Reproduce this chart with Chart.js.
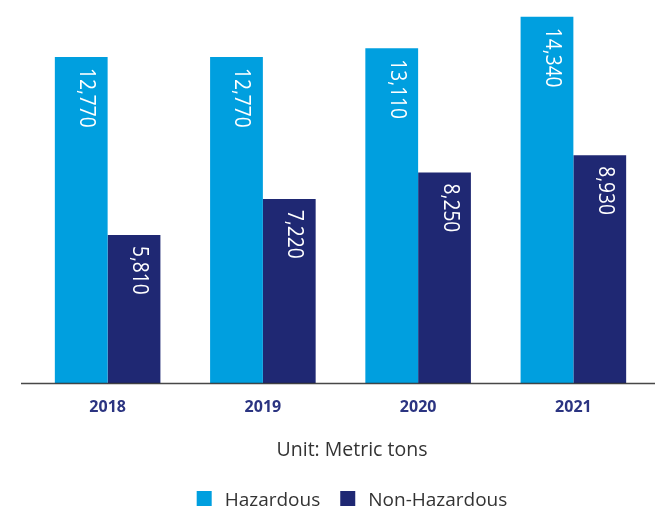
<!DOCTYPE html>
<html>
<head>
<meta charset="utf-8">
<script src="https://cdn.jsdelivr.net/npm/chart.js@4.4.1/dist/chart.umd.min.js"></script>
<style>
  html, body { margin: 0; padding: 0; background: #fff; }
  #wrap { position: relative; width: 655px; height: 508px; }
</style>
</head>
<body>
<div id="wrap"><canvas id="graficaResiduos"></canvas></div>
<script>
const years = ['2018', '2019', '2020', '2021'];
const hazardous = [12770, 12770, 13110, 14340];
const nonHazardous = [5810, 7220, 8250, 8930];
const seriesNames = ['Hazardous', 'Non-Hazardous'];
const unitText = 'Unit: Metric tons';

const lightBlue = '#009fdf';
const navy = '#1f2873';

// value labels written downward inside each bar, near its top
const valueLabels = {
  id: 'valueLabels',
  afterDatasetsDraw(chart) {
    const ctx = chart.ctx;
    ctx.save();
    ctx.fillStyle = '#ffffff';
    ctx.font = '22px "Open Sans", sans-serif';
    ctx.textAlign = 'left';
    ctx.textBaseline = 'alphabetic';
    chart.data.datasets.forEach((ds, i) => {
      chart.getDatasetMeta(i).data.forEach((bar, j) => {
        ctx.save();
        ctx.translate(bar.x - 1, bar.y + 11);
        ctx.rotate(Math.PI / 2);
        ctx.scale(0.87, 1); // narrower digits
        ctx.fillText(ds.data[j].toLocaleString('en-US'), 0, 0);
        ctx.restore();
      });
    });
    ctx.restore();
  }
};

// baseline, unit note and legend under the bars
const bottomParts = {
  id: 'bottomParts',
  afterDatasetsDraw(chart) {
    const ctx = chart.ctx;
    const y0 = chart.chartArea.bottom;
    ctx.save();
    ctx.strokeStyle = 'rgba(40,40,40,0.85)';
    ctx.lineWidth = 1.5;
    ctx.beginPath();
    ctx.moveTo(21, y0);
    ctx.lineTo(chart.width, y0);
    ctx.stroke();

    const cx = 352;
    ctx.fillStyle = '#333333';
    ctx.font = '19.5px "Open Sans", sans-serif';
    ctx.textAlign = 'center';
    ctx.textBaseline = 'alphabetic';
    ctx.fillText(unitText, cx, 456);

    // legend
    ctx.font = '19px "Open Sans", sans-serif';
    ctx.textAlign = 'left';
    const box = 15, gapText = 13, gapItem = 20;
    const widths = seriesNames.map(n => ctx.measureText(n).width);
    const total = widths.reduce((a, w) => a + box + gapText + w, 0) + gapItem;
    let x = cx - total / 2;
    chart.data.datasets.forEach((ds, i) => {
      ctx.fillStyle = ds.backgroundColor;
      ctx.fillRect(x, 491, box, box);
      ctx.fillStyle = '#333333';
      ctx.fillText(ds.label, x + box + gapText, 506);
      x += box + gapText + widths[i] + gapItem;
    });
    ctx.restore();
  }
};

const ctx = document.getElementById('graficaResiduos').getContext('2d');
const grafica = new Chart(ctx, {
  type: 'bar',
  data: {
    labels: years,
    datasets: [{
      label: seriesNames[0],
      data: hazardous,
      backgroundColor: lightBlue
    }, {
      label: seriesNames[1],
      data: nonHazardous,
      backgroundColor: navy
    }]
  },
  options: {
    responsive: true,
    maintainAspectRatio: false,
    animation: false,
    layout: {
      padding: { left: 30, right: 4, top: 0, bottom: 0 }
    },
    plugins: {
      legend: { display: false },
      tooltip: { enabled: false }
    },
    datasets: {
      bar: { categoryPercentage: 0.68, barPercentage: 1 }
    },
    scales: {
      x: {
        grid: { display: false, drawTicks: false },
        border: { display: false },
        ticks: {
          padding: 14,
          color: '#2b3481',
          font: { family: '"Open Sans", sans-serif', size: 16, weight: 'bold' }
        },
        afterFit(scale) { scale.height = 124.5; }
      },
      y: {
        display: false,
        min: 0,
        max: 15000
      }
    }
  },
  plugins: [valueLabels, bottomParts]
});
</script>
</body>
</html>
